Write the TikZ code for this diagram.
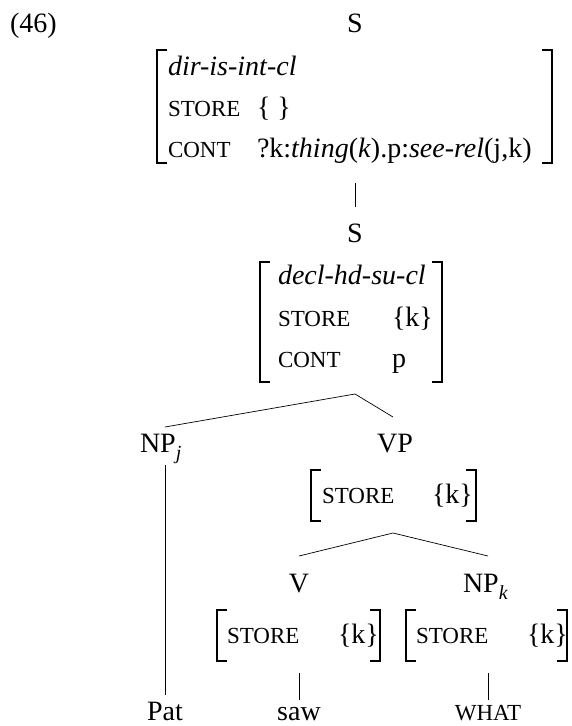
\documentclass[tikz,border=0pt]{standalone}
\usepackage{fontspec}
\setmainfont{Liberation Serif}[ItalicFont={Liberation Serif Italic}]
\newcommand\smc[1]{{\fontsize{23}{25}\selectfont #1}}
\newcommand\subsc[1]{\raisebox{-0.25em}{\fontsize{20}{21}\selectfont\textit{#1}}}
\begin{document}
\begin{tikzpicture}[x=1pt,y=-1pt,
  txt/.style={inner sep=0pt, outer sep=0pt, font=\fontsize{28}{30}\selectfont},
  brk/.style={line width=1.6pt},
  br/.style={line width=0.7pt}]
\useasboundingbox (0,0) rectangle (571,726);
% header
\node[txt, anchor=base west] (ex) at (10,32) {(46)};
\node[txt, anchor=base] (s1) at (355,32) {S};
% AVM 1
\coordinate (a1tl) at (157,50); \coordinate (a1bl) at (157,163);
\coordinate (a1tr) at (552,50); \coordinate (a1br) at (552,163);
\draw[brk] ([xshift=10pt]a1tl) -- (a1tl) -- (a1bl) -- ([xshift=10pt]a1bl);
\draw[brk] ([xshift=-10pt]a1tr) -- (a1tr) -- (a1br) -- ([xshift=-10pt]a1br);
\node[txt, anchor=base west] (t1) at (168,75) {\textit{dir-is-int-cl}};
\node[txt, anchor=base west] (st1) at (168,116) {\smc{STORE}};
\node[txt, anchor=base west] (sv1) at (257,116) {\{ \}};
\node[txt, anchor=base west] (ct1) at (168,157) {\smc{CONT}};
\node[txt, anchor=base west] (cv1) at (257,157) {?k:\textit{thing}(\textit{k}).p:\textit{see-rel}(j,k)};
% link
\coordinate (l1a) at (355,183); \coordinate (l1b) at (355,207);
\draw[br] (l1a) -- (l1b);
\node[txt, anchor=base] (s2) at (355,242) {S};
% AVM 2
\coordinate (a2tl) at (260,262); \coordinate (a2bl) at (260,382);
\coordinate (a2tr) at (442,262); \coordinate (a2br) at (442,382);
\draw[brk] ([xshift=10pt]a2tl) -- (a2tl) -- (a2bl) -- ([xshift=10pt]a2bl);
\draw[brk] ([xshift=-10pt]a2tr) -- (a2tr) -- (a2br) -- ([xshift=-10pt]a2br);
\node[txt, anchor=base west] (t2) at (278,284) {\textit{decl-hd-su-cl}};
\node[txt, anchor=base west] (st2) at (278,326) {\smc{STORE}};
\node[txt, anchor=base west] (sv2) at (392,326) {\{k\}};
\node[txt, anchor=base west] (ct2) at (278,367) {\smc{CONT}};
\node[txt, anchor=base west] (cv2) at (392,367) {p};
% branches
\coordinate (ap1) at (355,394); \coordinate (npjt) at (165,427); \coordinate (vpt) at (393,417);
\draw[br] (npjt) -- (ap1) -- (vpt);
\node[txt, anchor=base west] (npj) at (140,452) {NP\subsc{j}};
\node[txt, anchor=base] (vp) at (395,452) {VP};
% VP AVM
\coordinate (a3tl) at (311,470); \coordinate (a3bl) at (311,521);
\coordinate (a3tr) at (476,470); \coordinate (a3br) at (476,521);
\draw[brk] ([xshift=10pt]a3tl) -- (a3tl) -- (a3bl) -- ([xshift=10pt]a3bl);
\draw[brk] ([xshift=-10pt]a3tr) -- (a3tr) -- (a3br) -- ([xshift=-10pt]a3br);
\node[txt, anchor=base west] (st3) at (322,503) {\smc{STORE}};
\node[txt, anchor=base west] (sv3) at (432,503) {\{k\}};
\coordinate (ap2) at (393,533); \coordinate (vt) at (299,556); \coordinate (npkt) at (488,556);
\draw[br] (vt) -- (ap2) -- (npkt);
\node[txt, anchor=base] (v) at (299,592) {V};
\node[txt, anchor=base west] (npk) at (463,592) {NP\subsc{k}};
% V AVM
\coordinate (a4tl) at (217,610); \coordinate (a4bl) at (217,661);
\coordinate (a4tr) at (380,610); \coordinate (a4br) at (380,661);
\draw[brk] ([xshift=10pt]a4tl) -- (a4tl) -- (a4bl) -- ([xshift=10pt]a4bl);
\draw[brk] ([xshift=-10pt]a4tr) -- (a4tr) -- (a4br) -- ([xshift=-10pt]a4br);
\node[txt, anchor=base west] (st4) at (227,643) {\smc{STORE}};
\node[txt, anchor=base west] (sv4) at (338,643) {\{k\}};
% NPk AVM
\coordinate (a5tl) at (406,610); \coordinate (a5bl) at (406,661);
\coordinate (a5tr) at (567,610); \coordinate (a5br) at (567,661);
\draw[brk] ([xshift=10pt]a5tl) -- (a5tl) -- (a5bl) -- ([xshift=10pt]a5bl);
\draw[brk] ([xshift=-10pt]a5tr) -- (a5tr) -- (a5br) -- ([xshift=-10pt]a5br);
\node[txt, anchor=base west] (st5) at (416,643) {\smc{STORE}};
\node[txt, anchor=base west] (sv5) at (527,643) {\{k\}};
% leaves
\node[txt, anchor=base] (pat) at (165,720) {Pat};
\node[txt, anchor=base] (saw) at (299,720) {saw};
\node[txt, anchor=base] (what) at (488,720) {\smc{WHAT}};
\coordinate (p1) at (165,465); \coordinate (p2) at (165,695);
\coordinate (w1) at (299,673); \coordinate (w2) at (299,700);
\coordinate (h1) at (488,673); \coordinate (h2) at (488,700);
\draw[br] (p1) -- (p2);
\draw[br] (w1) -- (w2);
\draw[br] (h1) -- (h2);
\end{tikzpicture}
\end{document}
